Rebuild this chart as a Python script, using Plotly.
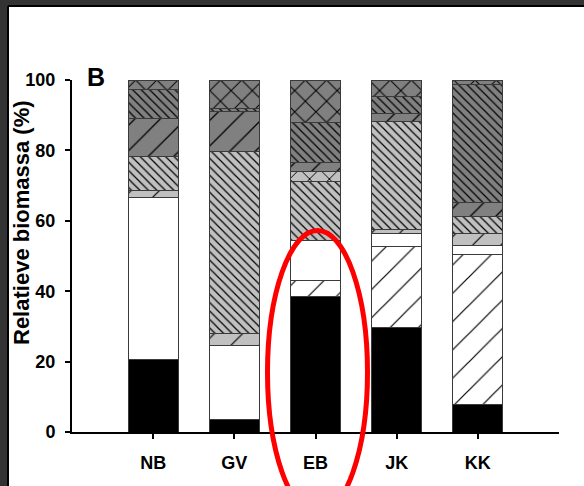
import plotly.graph_objects as go

categories = ["NB", "GV", "EB", "JK", "KK"]

# stacked layers, bottom to top (percent of biomass)
black_solid    = [20.7, 3.5, 38.6, 29.6, 7.7]
white_slash    = [0.0, 0.0, 4.3, 23.0, 42.6]
white_plain    = [45.8, 21.2, 11.4, 3.8, 2.8]
lgray_slash    = [2.1, 3.3, 0.0, 1.2, 3.3]
lgray_back     = [9.6, 51.6, 17.0, 30.6, 4.8]
lgray_cross    = [0.0, 0.0, 2.8, 0.0, 0.0]
dgray_slash    = [10.9, 11.4, 2.5, 2.3, 4.1]
dgray_back     = [8.3, 1.0, 11.4, 4.7, 33.5]
dgray_cross    = [2.6, 8.0, 12.0, 4.8, 1.2]

y_ticks = [0, 20, 40, 60, 80, 100]

layers = [
    (black_solid, "#000000", "", 8, 0.1),
    (white_slash, "#ffffff", "/", 20, 0.06),
    (white_plain, "#ffffff", "", 8, 0.1),
    (lgray_slash, "#c0c0c0", "/", 20, 0.06),
    (lgray_back, "#c0c0c0", "\\", 6, 0.2),
    (lgray_cross, "#c0c0c0", "x", 14, 0.13),
    (dgray_slash, "#808080", "/", 18, 0.07),
    (dgray_back, "#808080", "\\", 6, 0.2),
    (dgray_cross, "#808080", "x", 15, 0.13),
]

fig = go.Figure()
for vals, col, shape, size, sol in layers:
    fig.add_trace(go.Bar(
        x=categories, y=vals, width=0.615,
        marker=dict(color=col, line=dict(color="#3a3a3a", width=1),
                    pattern=dict(shape=shape, fgcolor="#000000", fgopacity=1,
                                 size=size, solidity=sol, fillmode="overlay")),
        showlegend=False, hoverinfo="skip",
    ))

FONT = "Liberation Sans, Arial, sans-serif"
W, H = 584, 486
L, R, T, B = 72, 25, 80, 54
pw, ph = W - L - R, H - T - B

def px(x):
    return (x - L) / pw

def py(y):
    return (H - B - y) / ph

fig.update_layout(
    width=W, height=H, barmode="stack",
    margin=dict(l=L, r=R, t=T, b=B, pad=0),
    paper_bgcolor="white", plot_bgcolor="white",
    font=dict(family=FONT, color="black"),
    xaxis=dict(range=[-1, 5], showline=True, linecolor="black", linewidth=2,
               ticks="outside", ticklen=5, tickwidth=1.5, tickcolor="black",
               tickfont=dict(size=18, weight="bold", family=FONT),
               ticklabelstandoff=8, showgrid=False, zeroline=False, fixedrange=True),
    yaxis=dict(range=[0, 100], tickvals=y_ticks, showline=True, linecolor="black",
               linewidth=2, ticks="outside", ticklen=5, tickwidth=1.5, tickcolor="black",
               tickfont=dict(size=18, weight="bold", family=FONT),
               ticklabelstandoff=6, showgrid=False, zeroline=False, fixedrange=True),
    shapes=[
        dict(type="rect", xref="paper", yref="paper", x0=px(-5), x1=px(W + 5),
             y0=py(7), y1=py(-5), fillcolor="#333333", line=dict(width=0), layer="above"),
        dict(type="rect", xref="paper", yref="paper", x0=px(-5), x1=px(9),
             y0=py(H + 5), y1=py(-5), fillcolor="#333333", line=dict(width=0), layer="above"),
        dict(type="line", xref="paper", yref="paper", x0=px(8), x1=px(W + 5),
             y0=py(6), y1=py(6), line=dict(color="black", width=2), layer="above"),
        dict(type="line", xref="paper", yref="paper", x0=px(8), x1=px(8),
             y0=py(6), y1=py(H + 5), line=dict(color="black", width=2), layer="above"),
        dict(type="circle", xref="paper", yref="paper", x0=px(267.5), x1=px(367.5),
             y0=py(514), y1=py(230.5), line=dict(color="#ff0000", width=5), layer="above"),
    ],
    annotations=[
        dict(text="B", xref="paper", yref="paper", x=px(96), y=py(77), showarrow=False,
             font=dict(size=25, weight="bold", family=FONT), xanchor="center", yanchor="middle"),
        dict(text="Relatieve biomassa (%)", xref="paper", yref="paper", x=px(21), y=py(223),
             textangle=-90, showarrow=False, xanchor="center", yanchor="middle",
             font=dict(size=22, weight="bold", family=FONT)),
    ],
)

fig.write_html("out.html")
